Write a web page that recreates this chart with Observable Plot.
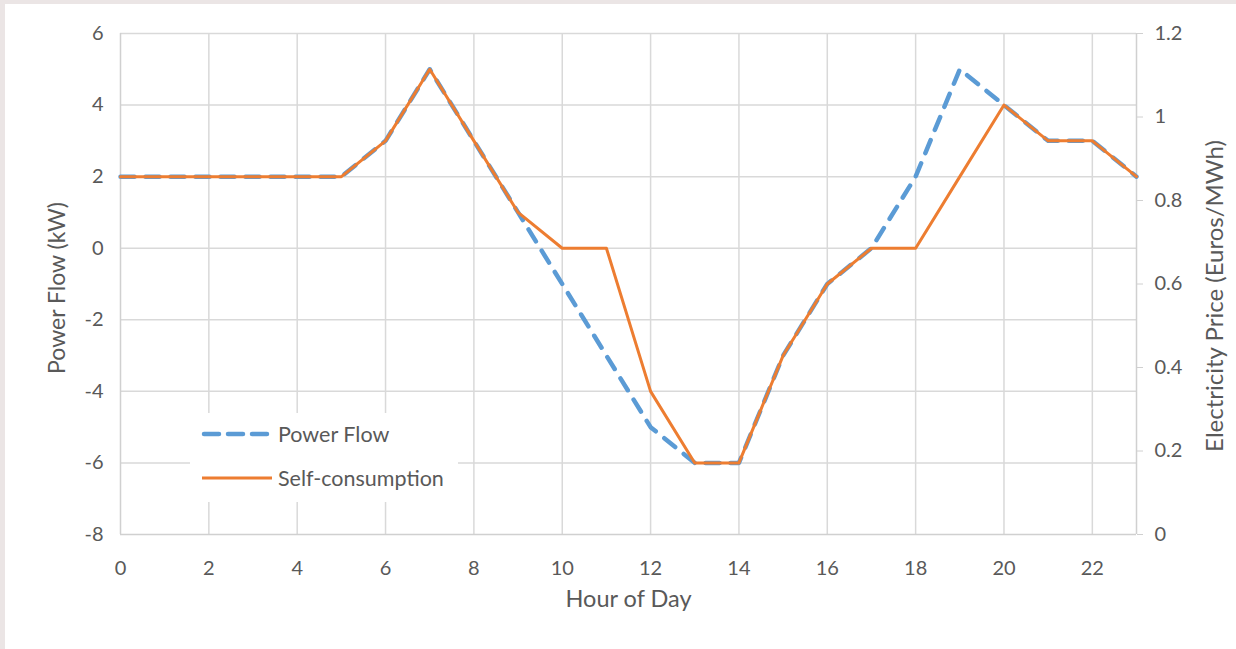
<!DOCTYPE html>
<html><head><meta charset="utf-8">
<script src="https://cdn.jsdelivr.net/npm/d3@7"></script>
<script src="https://cdn.jsdelivr.net/npm/@observablehq/plot@0.6"></script>
<style>
html,body{margin:0;padding:0;background:#fff;}
#wrap{position:relative;width:1236px;height:649px;overflow:hidden;background:#fff;font-family:Lato,sans-serif;color:#595959;}
#chart{position:absolute;left:0;top:0;}
.ft{position:absolute;left:0;top:0;width:1236px;height:4px;background:#ebe5e5;}
.fl{position:absolute;left:0;top:0;width:5px;height:649px;background:#ebe5e5;}
#legend{position:absolute;left:190px;top:413px;width:268px;height:89px;background:#fff;}
#legend svg{position:absolute;left:0;top:0;}
#legend .t{position:absolute;font-size:21.5px;line-height:24px;white-space:nowrap;}
</style></head><body>
<div id="wrap"><div id="chart"></div><div class="ft"></div><div class="fl"></div>
<div id="legend">
<svg width="268" height="89">
<line x1="14" y1="21" x2="78" y2="21" stroke="#5b9bd5" stroke-width="4.5" stroke-dasharray="15 9" stroke-linecap="round"/>
<line x1="12" y1="65" x2="82" y2="65" stroke="#ed7d31" stroke-width="3"/>
</svg>
<div class="t" style="left:88px;top:9px">Power Flow</div>
<div class="t" style="left:88px;top:53px">Self-consumption</div>
</div>
</div>
<script>
const hours = [0,1,2,3,4,5,6,7,8,9,10,11,12,13,14,15,16,17,18,19,20,21,22,23];
const powerFlow = [2,2,2,2,2,2,3,5,3,1,-1,-3,-5,-6,-6,-3,-1,0,2,5,4,3,3,2];
const selfConsumption = [2,2,2,2,2,2,3,5,3,1,0,0,-4,-6,-6,-3,-1,0,0,2,4,3,3,2];
const xTicks = [0,2,4,6,8,10,12,14,16,18,20,22];
const xGrid = [2,4,6,8,10,12,14,16,18,20,22];
const yTicks = [-8,-6,-4,-2,0,2,4,6];
const yGrid = [-6,-4,-2,0,2,4,6];
const priceTicks = [0,0.2,0.4,0.6,0.8,1,1.2];
const priceMax = 1.2;
const yMin = -8, yMax = 6;

const pf = hours.map((h,i)=>({h, v: powerFlow[i]}));
const sc = hours.map((h,i)=>({h, v: selfConsumption[i]}));
const toLeft = p => yMin + p/priceMax*(yMax-yMin);
const toPrice = v => +((v - yMin)*priceMax/(yMax-yMin)).toFixed(1);

const chart = Plot.plot({
  width: 1236, height: 649,
  marginLeft: 120, marginRight: 100, marginTop: 33, marginBottom: 115,
  style: {background: "white", fontFamily: "Lato, sans-serif", fontSize: "20px", color: "#595959"},
  x: {domain: [0,23]},
  y: {domain: [yMin,yMax]},
  marks: [
    Plot.gridX(xGrid, {stroke: "#d9d9d9", strokeOpacity: 1, strokeWidth: 1.5}),
    Plot.gridY(yGrid, {stroke: "#d9d9d9", strokeOpacity: 1, strokeWidth: 1.5}),
    Plot.ruleX([0], {stroke: "#d0d0d0", strokeWidth: 1.5}),
    Plot.ruleX([23], {stroke: "#d0d0d0", strokeWidth: 1.5}),
    Plot.ruleY([yMin], {stroke: "#d0d0d0", strokeWidth: 1.5}),
    Plot.axisX(xTicks, {tickSize: 0, tickPadding: 26, label: null, fill: "#595959", fontSize: 20, tickFormat: d => String(d)}),
    Plot.axisY(yTicks, {anchor: "left", tickSize: 0, tickPadding: 17, label: null, fill: "#595959", fontSize: 20, tickFormat: d => String(d)}),
    Plot.axisY(priceTicks.map(toLeft), {anchor: "right", tickSize: 6, tickPadding: 12, stroke: "#d0d0d0", label: null, fill: "#595959", fontSize: 20, tickFormat: d => String(toPrice(d))}),
    Plot.line(pf, {x: "h", y: "v", stroke: "#5b9bd5", strokeWidth: 4.5, strokeDasharray: "14 11", strokeLinecap: "round", strokeLinejoin: "round"}),
    Plot.line(sc, {x: "h", y: "v", stroke: "#ed7d31", strokeWidth: 3, strokeLinejoin: "round"}),
    Plot.text(["Power Flow (kW)"], {frameAnchor: "left", textAnchor: "middle", dx: -63, dy: 4, rotate: -90, fontSize: 23, fill: "#595959"}),
    Plot.text(["Hour of Day"], {frameAnchor: "bottom", textAnchor: "middle", dy: 72, fontSize: 23.5, fill: "#595959"}),
    Plot.text(["Electricity Price (Euros/MWh)"], {frameAnchor: "right", textAnchor: "middle", dx: 79, dy: 12, rotate: -90, fontSize: 24, fill: "#595959"})
  ]
});
document.getElementById("chart").appendChild(chart);
</script>
</body></html>
